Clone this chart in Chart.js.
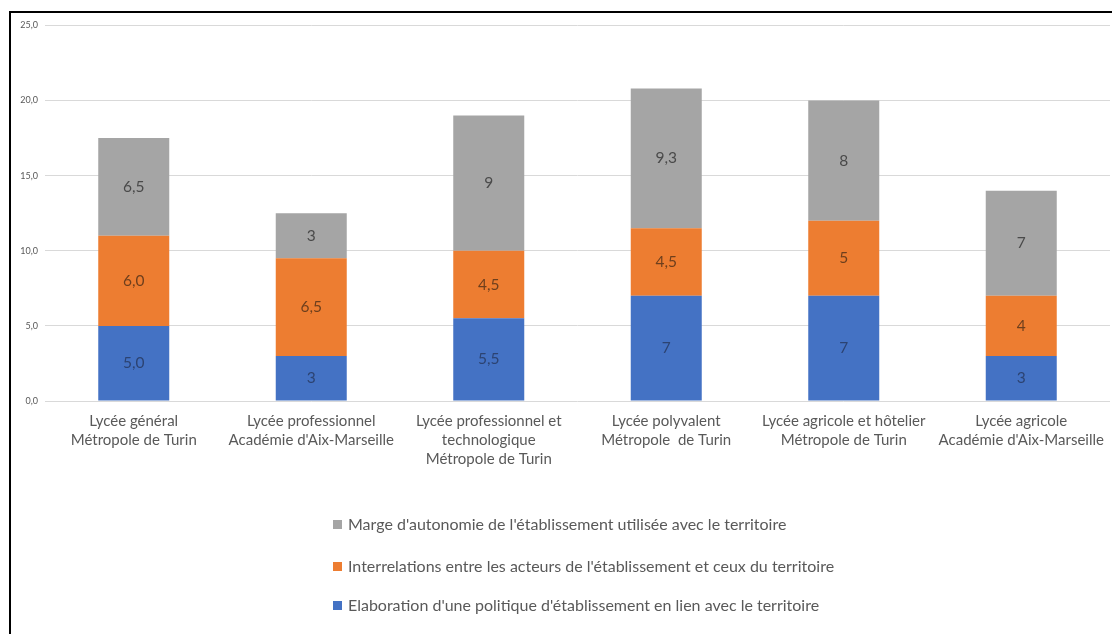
<!DOCTYPE html>
<html>
<head>
<meta charset="utf-8">
<script src="https://cdn.jsdelivr.net/npm/chart.js@4.4.1/dist/chart.umd.min.js"></script>
<style>
  html, body { margin: 0; padding: 0; background: #fff; }
  #cadre {
    position: absolute; left: 9px; top: 11px;
    width: 1101px; height: 621px;
    border-left: 2px solid #000; border-top: 2px solid #000;
  }
  #cadre canvas { display: block; }
</style>
</head>
<body>
<div id="cadre"><canvas id="barres" width="1101" height="621"></canvas></div>
<script>
// Données du graphique
const categories = [
    ['Lycée général', 'Métropole de Turin'],
    ['Lycée professionnel', "Académie d'Aix-Marseille"],
    ['Lycée professionnel et', 'technologique', 'Métropole de Turin'],
    ['Lycée polyvalent', 'Métropole  de Turin'],
    ['Lycée agricole et hôtelier', 'Métropole de Turin'],
    ['Lycée agricole', "Académie d'Aix-Marseille"]
];
const elaboration = [5, 3, 5.5, 7, 7, 3];
const interrelations = [6, 6.5, 4.5, 4.5, 5, 4];
const marge = [6.5, 3, 9, 9.3, 8, 7];

// Étiquettes affichées dans les barres (format d'origine)
const elaborationLabels = ['5,0', '3', '5,5', '7', '7', '3'];
const interrelationsLabels = ['6,0', '6,5', '4,5', '4,5', '5', '4'];
const margeLabels = ['6,5', '3', '9', '9,3', '8', '7'];

const yMax = 25;
const yStep = 5;

const police = 'Lato, "Open Sans", sans-serif';

// Étiquettes de données au centre de chaque segment
const etiquettesPlugin = {
    id: 'etiquettes',
    afterDatasetsDraw(chart) {
        const ctx = chart.ctx;
        ctx.save();
        ctx.font = '15.5px ' + police;
        ctx.textAlign = 'center';
        ctx.textBaseline = 'middle';
        chart.data.datasets.forEach((ds, i) => {
            const meta = chart.getDatasetMeta(i);
            ctx.fillStyle = ds.labelColor;
            meta.data.forEach((bar, j) => {
                const p = bar.getCenterPoint();
                ctx.fillText(ds.labels[j], p.x, p.y);
            });
        });
        ctx.restore();
    }
};

// Légende verticale en bas, ordre inversé
const legendePlugin = {
    id: 'legende',
    afterDraw(chart) {
        const ctx = chart.ctx;
        const base = chart.chartArea.bottom;
        const decalages = [124, 166, 205];
        const gauche = 322;
        ctx.save();
        ctx.font = '16px ' + police;
        ctx.textBaseline = 'middle';
        const ds = chart.data.datasets.slice().reverse();
        ds.forEach((d, i) => {
            const y = base + decalages[i];
            ctx.fillStyle = d.backgroundColor;
            ctx.fillRect(gauche, y - 5, 9, 9);
            ctx.fillStyle = '#595959';
            ctx.fillText(d.label, gauche + 15, y);
        });
        ctx.restore();
    }
};

const ctxBarres = document.getElementById('barres').getContext('2d');
new Chart(ctxBarres, {
    type: 'bar',
    data: {
        labels: categories,
        datasets: [{
            label: "Elaboration d'une politique d'établissement en lien avec le territoire",
            data: elaboration,
            labels: elaborationLabels,
            backgroundColor: '#4472C4',
            labelColor: '#2c4372'
        }, {
            label: "Interrelations entre les acteurs de l'établissement et ceux du territoire",
            data: interrelations,
            labels: interrelationsLabels,
            backgroundColor: '#ED7D31',
            labelColor: '#6e3f1d'
        }, {
            label: "Marge d'autonomie de l'établissement utilisée avec le territoire",
            data: marge,
            labels: margeLabels,
            backgroundColor: '#A5A5A5',
            labelColor: '#4a4a4a'
        }]
    },
    options: {
        responsive: false,
        animation: false,
        barPercentage: 0.4,
        categoryPercentage: 1,
        layout: {
            padding: { top: 6, right: 2, left: 0, bottom: 150 }
        },
        plugins: {
            legend: { display: false },
            tooltip: { enabled: false }
        },
        scales: {
            x: {
                stacked: true,
                grid: { display: false, drawTicks: false },
                border: { display: false },
                ticks: {
                    color: '#595959',
                    font: { family: police, size: 15, lineHeight: 1.27 },
                    padding: 11,
                    maxRotation: 0,
                    autoSkip: false
                },
                afterFit: (s) => {
                    s.height = 83;
                    s.paddingLeft = 0;
                    s.paddingRight = 0;
                }
            },
            y: {
                stacked: true,
                min: 0,
                max: yMax,
                grid: { color: '#d9d9d9', drawTicks: false },
                border: { display: false },
                ticks: {
                    stepSize: yStep,
                    color: '#595959',
                    padding: 7,
                    font: { family: police, size: 9 },
                    callback: (v) => v.toFixed(1).replace('.', ',')
                },
                afterFit: (s) => { s.width = 34; }
            }
        }
    },
    plugins: [etiquettesPlugin, legendePlugin]
});
</script>
</body>
</html>
